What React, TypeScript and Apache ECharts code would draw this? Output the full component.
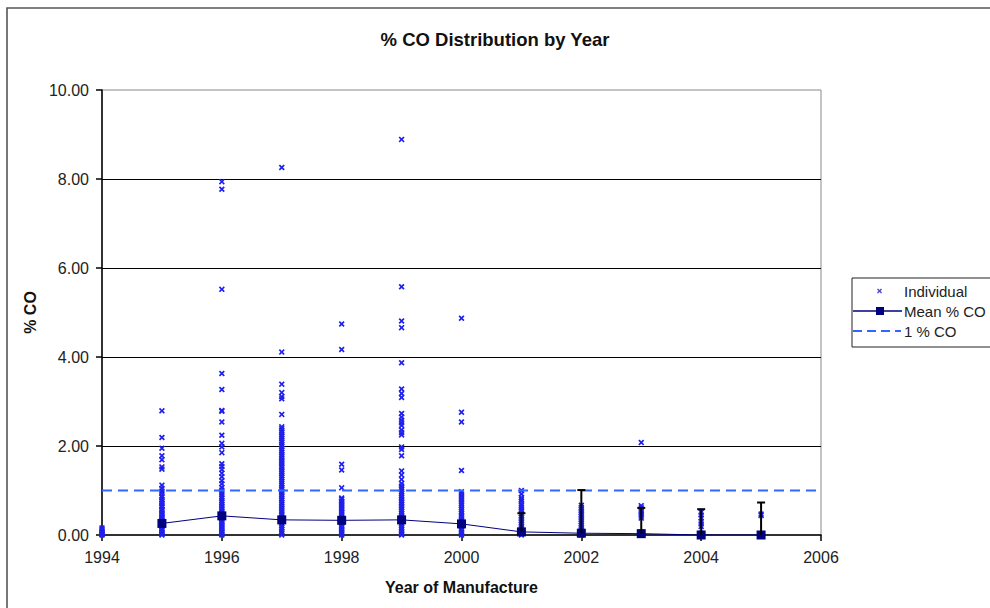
import React, { useEffect, useRef } from "react";
import * as echarts from "echarts";

// ---- data ----
const xTicks = [1994, 1996, 1998, 2000, 2002, 2004, 2006];

const ind1994 = [0.16, 0.13, 0.1, 0.07, 0.05, 0.03, 0.01, 0];
const ind1995 = [2.79, 2.19, 1.95, 1.78, 1.69, 1.53, 1.48, 1.12, 1.05, 0.99, 0.94, 0.88, 0.85, 0.8, 0.76, 0.72, 0.7, 0.66, 0.63, 0.58, 0.56, 0.52, 0.48, 0.46, 0.42, 0.39, 0.36, 0.33, 0.3, 0.27, 0.25, 0.21, 0.19, 0.15, 0.12, 0.1, 0.07, 0.05, 0.02, 0];
const ind1996 = [7.94, 7.77, 5.52, 3.63, 3.27, 2.8, 2.78, 2.54, 2.24, 2.06, 1.98, 1.85, 1.6, 1.54, 1.47, 1.39, 1.31, 1.22, 1.15, 1.07, 1.01, 0.96, 0.91, 0.86, 0.82, 0.77, 0.73, 0.69, 0.65, 0.61, 0.58, 0.54, 0.5, 0.47, 0.44, 0.4, 0.37, 0.33, 0.3, 0.27, 0.23, 0.2, 0.17, 0.14, 0.11, 0.08, 0.05, 0.02, 0];
const ind1997 = [8.26, 4.11, 3.39, 3.2, 3.11, 3.06, 2.71, 2.43, 2.39, 2.34, 2.3, 2.25, 2.21, 2.17, 2.12, 2.08, 2.03, 1.99, 1.94, 1.9, 1.86, 1.81, 1.77, 1.73, 1.68, 1.64, 1.6, 1.55, 1.51, 1.46, 1.42, 1.38, 1.33, 1.29, 1.25, 1.2, 1.16, 1.12, 1.07, 1.03, 0.99, 0.95, 0.9, 0.86, 0.82, 0.78, 0.73, 0.69, 0.65, 0.6, 0.56, 0.52, 0.47, 0.43, 0.39, 0.34, 0.3, 0.26, 0.21, 0.17, 0.13, 0.08, 0.04, 0];
const ind1998 = [4.74, 4.17, 1.59, 1.46, 1.06, 0.83, 0.8, 0.76, 0.73, 0.69, 0.66, 0.62, 0.59, 0.55, 0.51, 0.48, 0.45, 0.41, 0.37, 0.34, 0.31, 0.27, 0.24, 0.2, 0.17, 0.13, 0.1, 0.06, 0.03, 0];
const ind1999 = [8.89, 5.58, 4.81, 4.66, 3.87, 3.28, 3.18, 3.09, 2.73, 2.65, 2.58, 2.52, 2.46, 2.36, 2.3, 2.25, 1.98, 1.92, 1.78, 1.44, 1.35, 1.25, 1.16, 1.1, 1.06, 1.02, 0.97, 0.93, 0.89, 0.85, 0.81, 0.77, 0.73, 0.69, 0.65, 0.61, 0.57, 0.53, 0.49, 0.45, 0.41, 0.37, 0.33, 0.29, 0.25, 0.21, 0.17, 0.13, 0.09, 0.05, 0.02, 0];
const ind2000 = [4.87, 2.76, 2.54, 1.45, 0.97, 0.92, 0.87, 0.83, 0.79, 0.74, 0.7, 0.66, 0.61, 0.57, 0.53, 0.49, 0.45, 0.41, 0.36, 0.32, 0.28, 0.24, 0.19, 0.15, 0.11, 0.07, 0.03, 0];
const ind2001 = [1.0, 0.92, 0.84, 0.8, 0.76, 0.7, 0.66, 0.61, 0.56, 0.52, 0.48, 0.44, 0.4, 0.36, 0.32, 0.28, 0.24, 0.2, 0.16, 0.12, 0.08, 0.04, 0];
const ind2002 = [0.67, 0.62, 0.58, 0.54, 0.5, 0.46, 0.42, 0.38, 0.34, 0.3, 0.26, 0.22, 0.18, 0.14, 0.1, 0.06, 0.03, 0];
const ind2003 = [2.08, 0.66, 0.61, 0.56, 0.52, 0.47, 0.42, 0.38, 0.07, 0.03, 0];
const ind2004 = [0.51, 0.45, 0.38, 0.31, 0.25, 0.19, 0.04, 0];
const ind2005 = [0.47, 0.44, 0];

const individualByYear: [number, number[]][] = [
  [1994, ind1994], [1995, ind1995], [1996, ind1996], [1997, ind1997],
  [1998, ind1998], [1999, ind1999], [2000, ind2000], [2001, ind2001],
  [2002, ind2002], [2003, ind2003], [2004, ind2004], [2005, ind2005],
];

const meanYears = [1995, 1996, 1997, 1998, 1999, 2000, 2001, 2002, 2003, 2004, 2005];
const meanValues = [0.26, 0.43, 0.34, 0.33, 0.34, 0.25, 0.07, 0.04, 0.03, 0.0, 0.0];

const errYears = [2001, 2002, 2003, 2004, 2005];
const errTop = [0.49, 1.01, 0.61, 0.58, 0.73];

const refLevel = 1;

const FONT = '"Liberation Sans", Arial, sans-serif';
const XMARK = "path://M0,2L2,0L5,3L8,0L10,2L7,5L10,8L8,10L5,7L2,10L0,8L3,5Z";

export default function App() {
  const ref = useRef<HTMLDivElement>(null);

  useEffect(() => {
    if (!ref.current) return;
    const chart = echarts.init(ref.current, undefined, { renderer: "svg" });

    const individual: number[][] = [];
    individualByYear.forEach(([yr, vals]) => vals.forEach((v) => individual.push([yr, v])));
    const meanData = meanYears.map((y, i) => [y, meanValues[i]]);
    const errData = errYears.map((y, i) => {
      const mi = meanYears.indexOf(y);
      return [y, meanValues[mi], errTop[i]];
    });

    chart.setOption({
      animation: false,
      backgroundColor: "#ffffff",
      textStyle: { fontFamily: FONT },
      title: {
        text: "% CO Distribution by Year",
        left: "center",
        top: 25,
        textStyle: { fontFamily: FONT, fontSize: 18.5, fontWeight: "bold", color: "#111" },
      },
      grid: {
        left: 102, top: 90, right: 169, bottom: 73,
        show: true, borderColor: "#8a8a8a", borderWidth: 1, backgroundColor: "transparent",
      },
      xAxis: {
        type: "value",
        min: xTicks[0],
        max: xTicks[xTicks.length - 1],
        interval: 2,
        name: "Year of Manufacture",
        nameLocation: "middle",
        nameGap: 44,
        nameTextStyle: { fontFamily: FONT, fontSize: 16, fontWeight: "bold", color: "#111" },
        axisLine: { show: true, lineStyle: { color: "#000", width: 1.5 } },
        axisTick: { show: true, inside: false, length: 6, lineStyle: { color: "#000", width: 1.5 } },
        axisLabel: { fontFamily: FONT, fontSize: 16, color: "#222", margin: 14, formatter: (v: number) => String(v) },
        splitLine: { show: false },
      },
      yAxis: {
        type: "value",
        min: 0,
        max: 10,
        interval: 2,
        name: "% CO",
        nameLocation: "middle",
        nameGap: 47,
        nameRotate: 90,
        nameTextStyle: { fontFamily: FONT, fontSize: 16, fontWeight: "bold", color: "#111" },
        axisLine: { show: true, lineStyle: { color: "#000", width: 1.5 } },
        axisTick: { show: true, inside: false, length: 6, lineStyle: { color: "#000", width: 1.5 } },
        axisLabel: { fontFamily: FONT, fontSize: 16, color: "#222", margin: 13, formatter: (v: number) => v.toFixed(2) },
        splitLine: { show: true, showMinLine: false, showMaxLine: false, lineStyle: { color: "#000", width: 1.2 } },
      },
      series: [
        {
          name: "Individual",
          type: "scatter",
          data: individual,
          symbol: XMARK,
          symbolSize: 6,
          itemStyle: { color: "#2020ee", opacity: 1 },
          z: 2,
        },
        {
          name: "1 % CO",
          type: "line",
          data: [[xTicks[0], refLevel], [xTicks[xTicks.length - 1], refLevel]],
          showSymbol: false,
          symbol: "none",
          lineStyle: { color: "#3366ff", width: 2.2, type: [10, 6] },
          z: 3,
        },
        {
          name: "Mean % CO",
          type: "line",
          data: meanData,
          symbol: "rect",
          symbolSize: 9,
          itemStyle: { color: "#000080" },
          lineStyle: { color: "#000080", width: 1 },
          z: 4,
        },
        {
          name: "err",
          type: "custom",
          data: errData,
          encode: { x: 0, y: [1, 2] },
          z: 5,
          renderItem: (params: any, api: any) => {
            const x = api.value(0);
            const p0 = api.coord([x, api.value(1)]);
            const p1 = api.coord([x, api.value(2)]);
            return {
              type: "group",
              children: [
                { type: "line", shape: { x1: p0[0], y1: p0[1], x2: p1[0], y2: p1[1] }, style: { stroke: "#000", lineWidth: 2 } },
                { type: "line", shape: { x1: p1[0] - 4, y1: p1[1], x2: p1[0] + 4, y2: p1[1] }, style: { stroke: "#000", lineWidth: 2 } },
              ],
            };
          },
        },
      ],
      graphic: [
        {
          type: "rect",
          shape: { x: 7, y: 8, width: 1100, height: 800 },
          style: { fill: "none", stroke: "#555", lineWidth: 1.6 },
          silent: true,
          z: 0,
        },
        {
          type: "group",
          z: 10,
          children: [
            { type: "rect", shape: { x: 852, y: 278, width: 200, height: 69 }, style: { fill: "#fff", stroke: "#222", lineWidth: 1 } },
            { type: "line", shape: { x1: 877.5, y1: 289, x2: 881.5, y2: 293 }, style: { stroke: "#4a4acc", lineWidth: 1.4 } },
            { type: "line", shape: { x1: 881.5, y1: 289, x2: 877.5, y2: 293 }, style: { stroke: "#4a4acc", lineWidth: 1.4 } },
            { type: "line", shape: { x1: 853, y1: 311, x2: 902, y2: 311 }, style: { stroke: "#000080", lineWidth: 1.5 } },
            { type: "rect", shape: { x: 876, y: 307, width: 8, height: 8 }, style: { fill: "#000080" } },
            { type: "line", shape: { x1: 853, y1: 331, x2: 901, y2: 331 }, style: { stroke: "#3366ff", lineWidth: 2.2, lineDash: [9, 5] } },
            { type: "text", style: { text: "Individual", x: 904, y: 291, font: `15px ${FONT}`, fill: "#222", verticalAlign: "middle" } },
            { type: "text", style: { text: "Mean % CO", x: 904, y: 311, font: `15px ${FONT}`, fill: "#222", verticalAlign: "middle" } },
            { type: "text", style: { text: "1 % CO", x: 904, y: 331, font: `15px ${FONT}`, fill: "#222", verticalAlign: "middle" } },
          ],
        },
      ],
    });

    return () => chart.dispose();
  }, []);

  return (
    <div
      ref={ref}
      style={{ position: "absolute", left: 0, top: 0, width: 990, height: 608 }}
    />
  );
}
